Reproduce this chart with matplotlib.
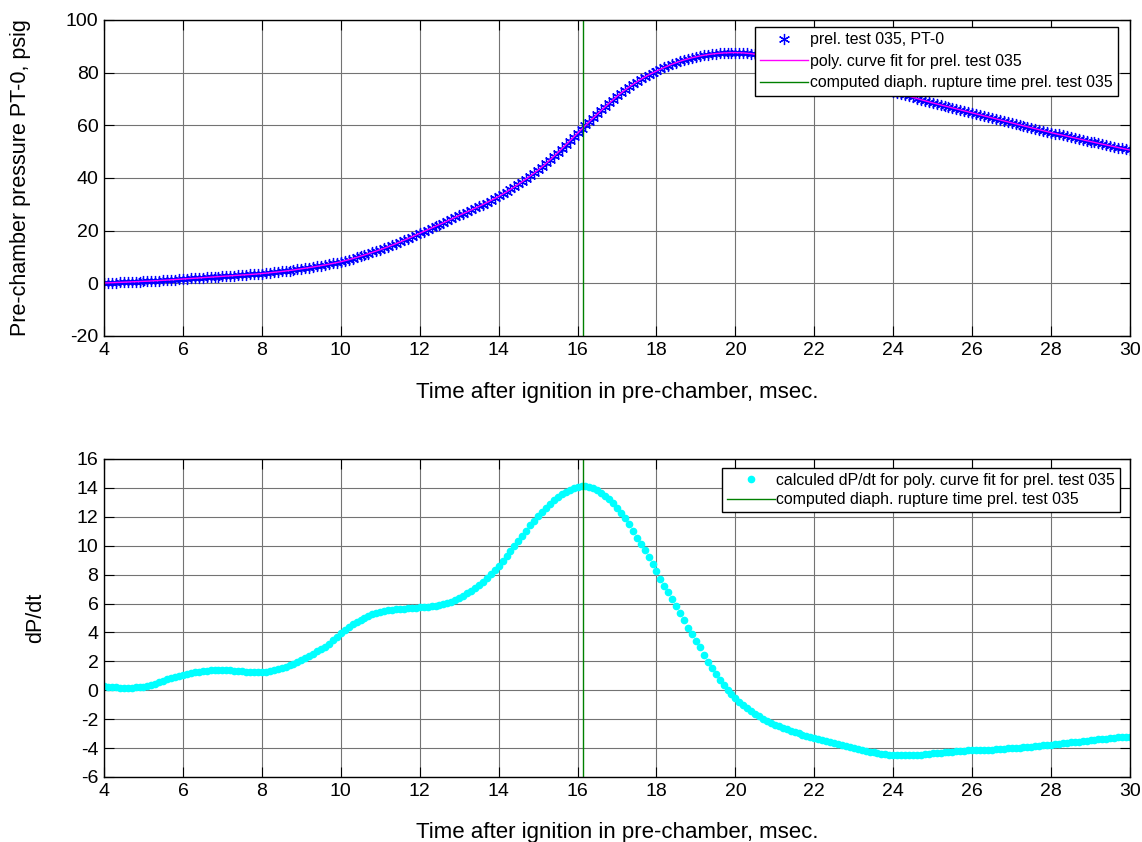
import numpy as np
import matplotlib
matplotlib.use('Agg')
import matplotlib.pyplot as plt

plt.rcParams['font.family'] = ['Liberation Sans', 'DejaVu Sans']
plt.rcParams['axes.unicode_minus'] = False

# sample times, msec (0.1 ms step)
t = np.round(np.arange(4.0, 30.05, 0.1), 1)

# pre-chamber pressure PT-0, psig
pressure = [
    0.10, 0.16, 0.22, 0.28, 0.34, 0.40, 0.46, 0.52, 0.58, 0.65,
    0.72, 0.80, 0.88, 0.96, 1.04, 1.13, 1.22, 1.32, 1.42, 1.52,
    1.62, 1.72, 1.82, 1.92, 2.02, 2.12, 2.22, 2.32, 2.42, 2.52,
    2.63, 2.74, 2.84, 2.94, 3.04, 3.14, 3.24, 3.34, 3.45, 3.57,
    3.70, 3.84, 3.99, 4.15, 4.31, 4.48, 4.66, 4.85, 5.05, 5.27,
    5.50, 5.72, 5.95, 6.19, 6.44, 6.70, 6.97, 7.25, 7.54, 7.85,
    8.18, 8.56, 8.96, 9.38, 9.82, 10.28, 10.75, 11.23, 11.73, 12.24,
    12.76, 13.31, 13.88, 14.47, 15.08, 15.70, 16.33, 16.97, 17.63, 18.31,
    19.00, 19.66, 20.32, 20.98, 21.64, 22.31, 22.99, 23.68, 24.38, 25.09,
    25.80, 26.46, 27.13, 27.81, 28.50, 29.20, 29.92, 30.66, 31.42, 32.20,
    33.00, 33.84, 34.72, 35.64, 36.60, 37.60, 38.62, 39.67, 40.75, 41.86,
    43.00, 44.22, 45.50, 46.83, 48.21, 49.63, 51.08, 52.54, 54.02, 55.51,
    57.00, 58.48, 59.95, 61.41, 62.85, 64.27, 65.67, 67.05, 68.40, 69.72,
    71.00, 72.22, 73.38, 74.48, 75.52, 76.50, 77.43, 78.31, 79.12, 79.88,
    80.60, 81.30, 81.98, 82.63, 83.24, 83.81, 84.34, 84.82, 85.25, 85.64,
    86.00, 86.32, 86.60, 86.84, 87.05, 87.22, 87.36, 87.47, 87.54, 87.58,
    87.60, 87.56, 87.48, 87.36, 87.20, 87.00, 86.76, 86.49, 86.19, 85.86,
    85.50, 85.18, 84.85, 84.51, 84.16, 83.80, 83.43, 83.06, 82.68, 82.29,
    81.90, 81.49, 81.07, 80.64, 80.21, 79.77, 79.33, 78.88, 78.43, 77.97,
    77.50, 77.03, 76.56, 76.09, 75.62, 75.15, 74.68, 74.21, 73.74, 73.27,
    72.80, 72.35, 71.90, 71.46, 71.02, 70.59, 70.16, 69.74, 69.32, 68.91,
    68.50, 68.12, 67.74, 67.36, 66.98, 66.60, 66.22, 65.84, 65.46, 65.08,
    64.70, 64.32, 63.94, 63.56, 63.18, 62.80, 62.42, 62.04, 61.66, 61.28,
    60.90, 60.53, 60.16, 59.79, 59.42, 59.05, 58.68, 58.31, 57.94, 57.57,
    57.20, 56.86, 56.52, 56.18, 55.84, 55.50, 55.16, 54.82, 54.48, 54.14,
    53.80, 53.48, 53.16, 52.84, 52.52, 52.20, 51.88, 51.56, 51.24, 50.92,
    50.60,
]

# dP/dt of the poly curve fit
dpdt = [
    0.30, 0.26, 0.23, 0.21, 0.19, 0.19, 0.19, 0.19, 0.20, 0.22,
    0.26, 0.31, 0.37, 0.46, 0.56, 0.66, 0.76, 0.84, 0.92, 0.99,
    1.05, 1.11, 1.17, 1.23, 1.28, 1.32, 1.35, 1.37, 1.38, 1.38,
    1.38, 1.38, 1.37, 1.36, 1.34, 1.31, 1.29, 1.27, 1.26, 1.26,
    1.27, 1.29, 1.33, 1.39, 1.46, 1.54, 1.63, 1.73, 1.85, 1.98,
    2.12, 2.26, 2.40, 2.54, 2.69, 2.85, 3.02, 3.22, 3.45, 3.70,
    3.95, 4.16, 4.36, 4.55, 4.72, 4.88, 5.02, 5.14, 5.25, 5.34,
    5.41, 5.47, 5.52, 5.56, 5.59, 5.62, 5.65, 5.68, 5.70, 5.72,
    5.74, 5.76, 5.78, 5.81, 5.85, 5.89, 5.95, 6.02, 6.11, 6.23,
    6.38, 6.54, 6.71, 6.89, 7.08, 7.28, 7.51, 7.76, 8.03, 8.31,
    8.62, 8.95, 9.30, 9.65, 10.00, 10.35, 10.70, 11.05, 11.40, 11.73,
    12.03, 12.33, 12.62, 12.89, 13.13, 13.36, 13.56, 13.73, 13.88, 14.00,
    14.08, 14.13, 14.14, 14.08, 13.97, 13.83, 13.65, 13.45, 13.22, 12.95,
    12.64, 12.29, 11.90, 11.47, 11.02, 10.56, 10.10, 9.68, 9.24, 8.74,
    8.22, 7.72, 7.23, 6.78, 6.31, 5.83, 5.33, 4.83, 4.34, 3.88,
    3.44, 2.98, 2.47, 1.97, 1.52, 1.11, 0.73, 0.38, 0.04, -0.28,
    -0.55, -0.80, -1.03, -1.25, -1.45, -1.63, -1.80, -1.96, -2.11, -2.25,
    -2.38, -2.50, -2.61, -2.71, -2.81, -2.90, -2.99, -3.07, -3.15, -3.23,
    -3.30, -3.37, -3.44, -3.51, -3.58, -3.65, -3.72, -3.79, -3.86, -3.93,
    -4.00, -4.06, -4.12, -4.18, -4.24, -4.29, -4.34, -4.39, -4.43, -4.46,
    -4.48, -4.50, -4.51, -4.51, -4.51, -4.50, -4.48, -4.46, -4.43, -4.40,
    -4.37, -4.34, -4.31, -4.28, -4.26, -4.24, -4.22, -4.20, -4.18, -4.16,
    -4.15, -4.14, -4.13, -4.12, -4.11, -4.10, -4.08, -4.06, -4.04, -4.02,
    -4.00, -3.98, -3.96, -3.94, -3.92, -3.90, -3.88, -3.85, -3.82, -3.79,
    -3.76, -3.73, -3.70, -3.67, -3.64, -3.61, -3.58, -3.55, -3.52, -3.49,
    -3.46, -3.43, -3.40, -3.37, -3.34, -3.31, -3.28, -3.26, -3.24, -3.22,
    -3.20,
]

rupture_time = 16.15
x_ticks = np.arange(4, 31, 2)
p_ticks = np.arange(-20, 101, 20)
d_ticks = np.arange(-6, 17, 2)
xlab = 'Time after ignition in pre-chamber, msec.'


def style(ax):
    ax.grid(True, color='0.45', linewidth=0.8)
    ax.set_axisbelow(True)
    ax.tick_params(direction='in', top=True, right=True, length=7, width=0.8,
                   labelsize=14, pad=4)
    for s in ax.spines.values():
        s.set_linewidth(1.0)


fig = plt.figure(figsize=(11.42, 8.42), dpi=100)
ax1 = fig.add_axes([0.0911, 0.601, 0.8984, 0.3753])
ax2 = fig.add_axes([0.0911, 0.0772, 0.8984, 0.3777])

# upper plot: pressure
ax1.plot(t, pressure, linestyle='none', marker=(6, 2, 0), markersize=8,
         markeredgewidth=0.9, color='b', label='prel. test 035, PT-0')
ax1.plot(t, pressure, color='#ff00ff', linewidth=1.0,
         label='poly. curve fit for prel. test 035')
ax1.axvline(rupture_time, color='#008000', linewidth=1.0,
            label='computed diaph. rupture time prel. test 035')
ax1.set_xlim(4, 30)
ax1.set_ylim(-20, 100)
ax1.set_xticks(x_ticks)
ax1.set_yticks(p_ticks)
style(ax1)
ax1.set_xlabel(xlab, fontsize=16)
ax1.set_ylabel('Pre-chamber pressure PT-0, psig', fontsize=15.5)
ax1.xaxis.set_label_coords(0.5, -0.145)
ax1.yaxis.set_label_coords(-0.071, 0.5)
leg1 = ax1.legend(loc='upper right', bbox_to_anchor=(0.988, 0.978),
                  borderaxespad=0, fontsize=11.4, handlelength=3,
                  handletextpad=0.1, fancybox=False, framealpha=1,
                  edgecolor='black', borderpad=0.35, labelspacing=0.4)
leg1.get_frame().set_linewidth(1.0)

# lower plot: dP/dt
ax2.plot(t, dpdt, linestyle='none', marker='.', markersize=9, color='#00ffff',
         label='calculed dP/dt for poly. curve fit for prel. test 035')
ax2.axvline(rupture_time, color='#008000', linewidth=1.0,
            label='computed diaph. rupture time prel. test 035')
ax2.set_xlim(4, 30)
ax2.set_ylim(-6, 16)
ax2.set_xticks(x_ticks)
ax2.set_yticks(d_ticks)
style(ax2)
ax2.set_xlabel(xlab, fontsize=16)
ax2.set_ylabel('dP/dt', fontsize=15.5)
ax2.xaxis.set_label_coords(0.5, -0.14)
ax2.yaxis.set_label_coords(-0.056, 0.5)
leg2 = ax2.legend(loc='upper right', bbox_to_anchor=(0.99, 0.972),
                  borderaxespad=0, fontsize=11.4, handlelength=3,
                  handletextpad=0.1, fancybox=False, framealpha=1,
                  edgecolor='black', borderpad=0.3, labelspacing=0.3)
leg2.get_frame().set_linewidth(1.0)

fig.savefig('out.png', dpi=100)
